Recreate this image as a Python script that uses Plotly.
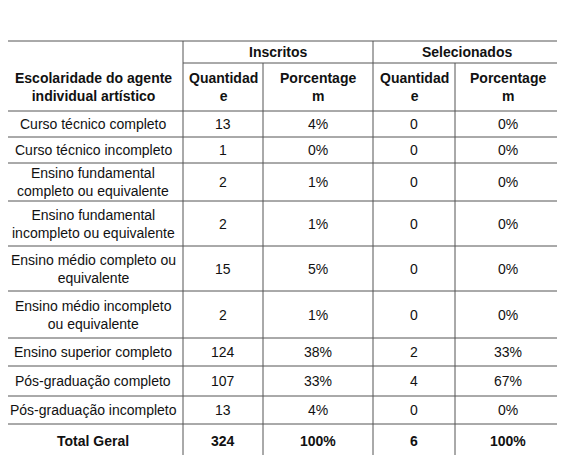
import plotly.graph_objects as go

title_lines = ["Tabela 15. Propostas inscritas e selecionadas por escolaridade do agente",
               "individual artístico"]
group_headers = ["Inscritos", "Selecionados"]
col_headers = ["Escolaridade do agente<br>individual artístico", "Quantidad<br>e", "Porcentage<br>m",
               "Quantidad<br>e", "Porcentage<br>m"]
categories = ["Curso técnico completo", "Curso técnico incompleto",
              "Ensino fundamental<br>completo ou equivalente",
              "Ensino fundamental<br>incompleto ou equivalente",
              "Ensino médio completo ou<br>equivalente",
              "Ensino médio incompleto<br>ou equivalente",
              "Ensino superior completo", "Pós-graduação completo", "Pós-graduação incompleto"]
insc_qtd = [13, 1, 2, 2, 15, 2, 124, 107, 13]
insc_pct = ["4%", "0%", "1%", "1%", "5%", "1%", "38%", "33%", "4%"]
sel_qtd = [0, 0, 0, 0, 0, 0, 2, 4, 0]
sel_pct = ["0%", "0%", "0%", "0%", "0%", "0%", "33%", "67%", "0%"]
total = ["Total Geral", "324", "100%", "6", "100%"]

# layout in window pixels (page body has an 8px margin)
col_x = [3, 183, 263, 373, 455, 561]
row_y = [41, 63, 111, 137, 163, 201, 246, 291, 338, 366, 396, 424, 458]
OFF = 8

FONT = "Liberation Sans, Arial, sans-serif"
fig = go.Figure()
shapes = []
ann = []
line = dict(color="#555555", width=1)

for i, y in enumerate(row_y):
    x0 = col_x[1] if i == 1 else col_x[0]
    shapes.append(dict(type="line", x0=x0, x1=col_x[-1], y0=y, y1=y, line=line))
for j, x in enumerate(col_x):
    y0 = row_y[1] if j in (2, 4) else row_y[0]
    shapes.append(dict(type="line", x0=x, x1=x, y0=y0, y1=row_y[-1], line=line))


def cell(text, c0, c1, r0, r1, bold=False):
    ann.append(dict(x=(col_x[c0] + col_x[c1]) / 2, y=(row_y[r0] + row_y[r1]) / 2,
                    text=f"<b>{text}</b>" if bold else text, showarrow=False,
                    xref="x", yref="y", font=dict(family=FONT, size=14, color="#111111"),
                    xanchor="center", yanchor="middle", align="center"))


cell(group_headers[0], 1, 3, 0, 1, True)
cell(group_headers[1], 3, 5, 0, 1, True)
for j, h in enumerate(col_headers):
    cell(h, j, j + 1, 1, 2, True)
for i, cat in enumerate(categories):
    r = i + 2
    vals = [cat, insc_qtd[i], insc_pct[i], sel_qtd[i], sel_pct[i]]
    for j, v in enumerate(vals):
        cell(str(v), j, j + 1, r, r + 1)
for j, v in enumerate(total):
    cell(v, j, j + 1, 11, 12, True)

for k, t in enumerate(title_lines):
    ann.append(dict(x=4, y=12 + 18 * k, text=f"<b>{t}</b>", showarrow=False, xref="x", yref="y",
                    xanchor="left", yanchor="middle",
                    font=dict(family=FONT, size=13.5, color="#111111")))

fig.update_layout(width=565 - 2 * OFF, height=463 - 2 * OFF, margin=dict(l=0, r=0, t=0, b=0),
                  paper_bgcolor="white", plot_bgcolor="white",
                  xaxis=dict(range=[OFF, 565 - OFF], visible=False, fixedrange=True),
                  yaxis=dict(range=[463 - OFF, OFF], visible=False, fixedrange=True),
                  shapes=shapes, annotations=ann, showlegend=False)
fig.write_html("out.html")
